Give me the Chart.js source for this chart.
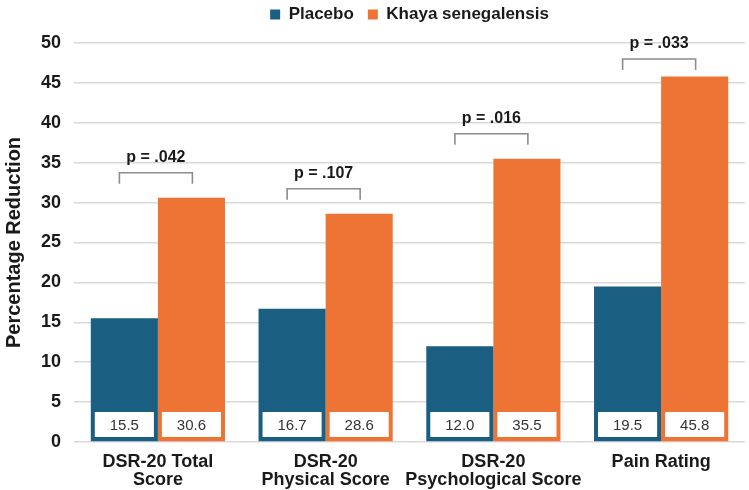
<!DOCTYPE html>
<html>
<head>
<meta charset="utf-8">
<script src="https://cdn.jsdelivr.net/npm/chart.js@4"></script>
<style>
  html, body { margin: 0; padding: 0; background: #ffffff; }
  #wrap { width: 749px; height: 490px; }
</style>
</head>
<body>
<div id="wrap"><canvas id="c" width="749" height="490"></canvas></div>
<script>
const categories = [["DSR-20 Total", "Score"], ["DSR-20", "Physical Score"], ["DSR-20", "Psychological Score"], ["Pain Rating"]];
const placebo = [15.5, 16.7, 12.0, 19.5];
const khaya = [30.6, 28.6, 35.5, 45.8];
const pValues = ["p = .042", "p = .107", "p = .016", "p = .033"];
const seriesNames = ["Placebo", "Khaya senegalensis"];
const yMin = 0, yMax = 50, yStep = 5;

const FONT = "'Liberation Sans', Arial, sans-serif";
const BLUE = "#1a5f82";
const ORANGE = "#ed7434";

const annotate = {
  id: "annotate",
  beforeLayout(chart) {
    const lg = chart.legend;
    if (lg && !lg._extraPatched) {
      const orig = lg.fit;
      lg.fit = function () { orig.call(this); this.height += 10; };
      lg._extraPatched = true;
    }
  },
  afterDatasetsDraw(chart) {
    const ctx = chart.ctx;
    const y = chart.scales.y;
    const zero = y.getPixelForValue(0);
    ctx.save();
    chart.data.datasets.forEach((ds, di) => {
      const meta = chart.getDatasetMeta(di);
      meta.data.forEach((bar, i) => {
        const w = bar.width;
        const left = bar.x - w / 2 + 4;
        const right = bar.x + w / 2 - 4;
        const top = zero - 30;
        const bottom = zero - 5;
        ctx.fillStyle = "#ffffff";
        ctx.fillRect(left, top, right - left, bottom - top);
        ctx.fillStyle = "#333333";
        ctx.font = "15px " + FONT;
        ctx.textAlign = "center";
        ctx.textBaseline = "middle";
        ctx.fillText(ds.data[i].toFixed(1), bar.x, (top + bottom) / 2 + 1);
      });
    });
    const m0 = chart.getDatasetMeta(0), m1 = chart.getDatasetMeta(1);
    pValues.forEach((p, i) => {
      const b0 = m0.data[i], b1 = m1.data[i];
      const cx = (b0.x + b1.x) / 2 - 2;
      const topVal = Math.max(placebo[i], khaya[i]);
      const by = Math.max(y.getPixelForValue(topVal) - 25, chart.chartArea.top + 16);
      const half = 36.5;
      ctx.strokeStyle = "#8c8c8c";
      ctx.lineWidth = 1.6;
      ctx.beginPath();
      ctx.moveTo(cx - half, by + 11);
      ctx.lineTo(cx - half, by);
      ctx.lineTo(cx + half, by);
      ctx.lineTo(cx + half, by + 11);
      ctx.stroke();
      ctx.fillStyle = "#1a1a1a";
      ctx.font = "bold 16px " + FONT;
      ctx.textAlign = "center";
      ctx.textBaseline = "middle";
      ctx.fillText(p, cx, by - 15);
    });
    ctx.restore();
  }
};

new Chart(document.getElementById("c"), {
  type: "bar",
  data: {
    labels: categories,
    datasets: [
      { label: seriesNames[0], data: placebo, backgroundColor: BLUE, borderWidth: 0 },
      { label: seriesNames[1], data: khaya, backgroundColor: ORANGE, borderWidth: 0 }
    ]
  },
  options: {
    responsive: false,
    animation: false,
    devicePixelRatio: 1,
    layout: { padding: { left: 2, right: 4, top: -8, bottom: 0 } },
    datasets: { bar: { categoryPercentage: 0.8, barPercentage: 1.0 } },
    plugins: {
      legend: {
        position: "top",
        fullSize: false,
        labels: {
          color: "#1a1a1a",
          font: { family: FONT, size: 17, weight: "bold" },
          boxWidth: 10,
          boxHeight: 10,
          padding: 14,
          useBorderRadius: false
        }
      },
      tooltip: { enabled: false }
    },
    scales: {
      x: {
        grid: { display: false, drawTicks: false },
        border: { display: false },
        ticks: {
          color: "#1a1a1a",
          font: { family: FONT, size: 18, weight: "bold", lineHeight: 1.0 },
          padding: 11,
          maxRotation: 0,
          autoSkip: false
        },
        afterFit(scale) { scale.height = 48; }
      },
      y: {
        min: yMin, max: yMax,
        grid: { color: "#d9d9d9", lineWidth: 1.5, drawTicks: false },
        border: { display: false },
        ticks: {
          stepSize: yStep,
          color: "#1a1a1a",
          font: { family: FONT, size: 18, weight: "bold" },
          padding: 13
        },
        title: {
          display: true,
          text: "Percentage Reduction",
          color: "#1a1a1a",
          font: { family: FONT, size: 20, weight: "bold" },
          padding: { top: 0, bottom: 2 }
        }
      }
    }
  },
  plugins: [annotate]
});
</script>
</body>
</html>
